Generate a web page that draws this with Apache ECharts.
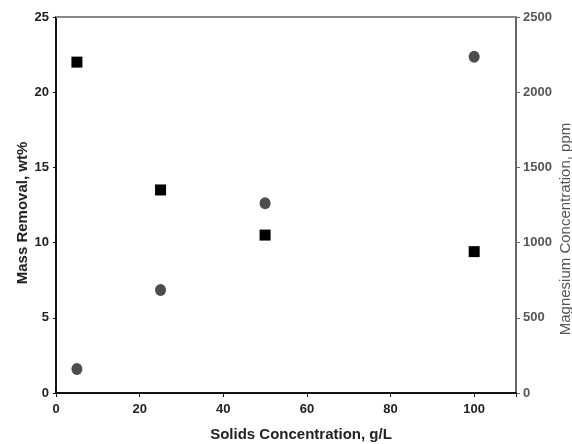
<!DOCTYPE html>
<html>
<head>
<meta charset="utf-8">
<script src="https://cdn.jsdelivr.net/npm/echarts@6/dist/echarts.min.js"></script>
<style>
    html, body { margin: 0; padding: 0; background: #fff; }
    #chart { width: 572px; height: 444px; }
</style>
</head>
<body>
<div id="chart"></div>
<script>
// solids concentration, g/L
var solids = [5, 25, 50, 100];
// mass removal, wt% (squares, left axis)
var massRemoval = [22.0, 13.5, 10.5, 9.4];
// magnesium concentration, ppm (circles, right axis)
var magnesium = [160, 685, 1262, 2235];

function pairs(xs, ys) {
    var out = [];
    for (var i = 0; i < xs.length; i++) {
        out.push([xs[i], ys[i]]);
    }
    return out;
}

var myChart = echarts.init(document.getElementById('chart'));
var fontFamily = '"Liberation Sans", Arial, sans-serif';

var option = {
    backgroundColor: '#fff',
    animation: false,
    grid: {
        left: 56,
        right: 56,
        top: 17,
        bottom: 51,
        outerBoundsMode: 'none',
        containLabel: false
    },
    xAxis: {
        type: 'value',
        min: 0,
        max: 110,
        interval: 20,
        name: 'Solids Concentration, g/L',
        nameLocation: 'middle',
        nameGap: 34,
        nameMoveOverlap: false,
        nameTextStyle: {
            color: '#222', fontSize: 15, fontWeight: 'bold', fontFamily: fontFamily,
            padding: [0, 0, 0, 30]
        },
        axisLine: {show: true, onZero: false, lineStyle: {color: '#111', width: 2}},
        axisTick: {show: true, length: 4, lineStyle: {color: '#111'}},
        axisLabel: {
            color: '#222', fontSize: 13, fontWeight: 'bold', fontFamily: fontFamily, margin: 10,
            formatter: function (v) { return v > 100 ? '' : String(v); }
        },
        splitLine: {show: false}
    },
    yAxis: [{
        type: 'value',
        position: 'left',
        min: 0,
        max: 25,
        interval: 5,
        name: 'Mass Removal, wt%',
        nameLocation: 'middle',
        nameGap: 26,
        nameMoveOverlap: false,
        nameTextStyle: {
            color: '#222', fontSize: 15, fontWeight: 'bold', fontFamily: fontFamily,
            padding: [0, 16, 0, 0]
        },
        axisLine: {show: true, onZero: false, lineStyle: {color: '#111', width: 2}},
        axisTick: {show: true, length: 3, lineStyle: {color: '#111'}},
        axisLabel: {color: '#222', fontSize: 13, fontWeight: 'bold', fontFamily: fontFamily, margin: 7},
        splitLine: {show: false}
    }, {
        type: 'value',
        position: 'right',
        min: 0,
        max: 2500,
        interval: 500,
        name: 'Magnesium Concentration, ppm',
        nameLocation: 'middle',
        nameGap: 42,
        nameRotate: 90,
        nameMoveOverlap: false,
        nameTextStyle: {
            color: '#555', fontSize: 15, fontFamily: fontFamily,
            padding: [0, 48, 0, 0]
        },
        axisLine: {show: true, onZero: false, lineStyle: {color: '#666', width: 2}},
        axisTick: {show: true, length: 4, lineStyle: {color: '#666'}},
        axisLabel: {
            color: '#555', fontSize: 13, fontWeight: 'bold', fontFamily: fontFamily, margin: 7,
            formatter: function (v) { return String(v); }
        },
        splitLine: {show: false}
    }],
    series: [{
        name: 'Mass Removal',
        type: 'scatter',
        yAxisIndex: 0,
        symbol: 'rect',
        symbolSize: 11,
        itemStyle: {color: '#000', opacity: 1},
        data: pairs(solids, massRemoval),
        markLine: {
            silent: true,
            symbol: 'none',
            label: {show: false},
            lineStyle: {color: '#888', width: 2, type: 'solid'},
            data: [{yAxis: 25}]
        },
        z: 3
    }, {
        name: 'Magnesium',
        type: 'scatter',
        yAxisIndex: 1,
        symbol: 'circle',
        symbolSize: [11, 12],
        itemStyle: {color: '#4d4d4d', opacity: 1},
        data: pairs(solids, magnesium),
        z: 3
    }]
};

myChart.setOption(option);
</script>
</body>
</html>
